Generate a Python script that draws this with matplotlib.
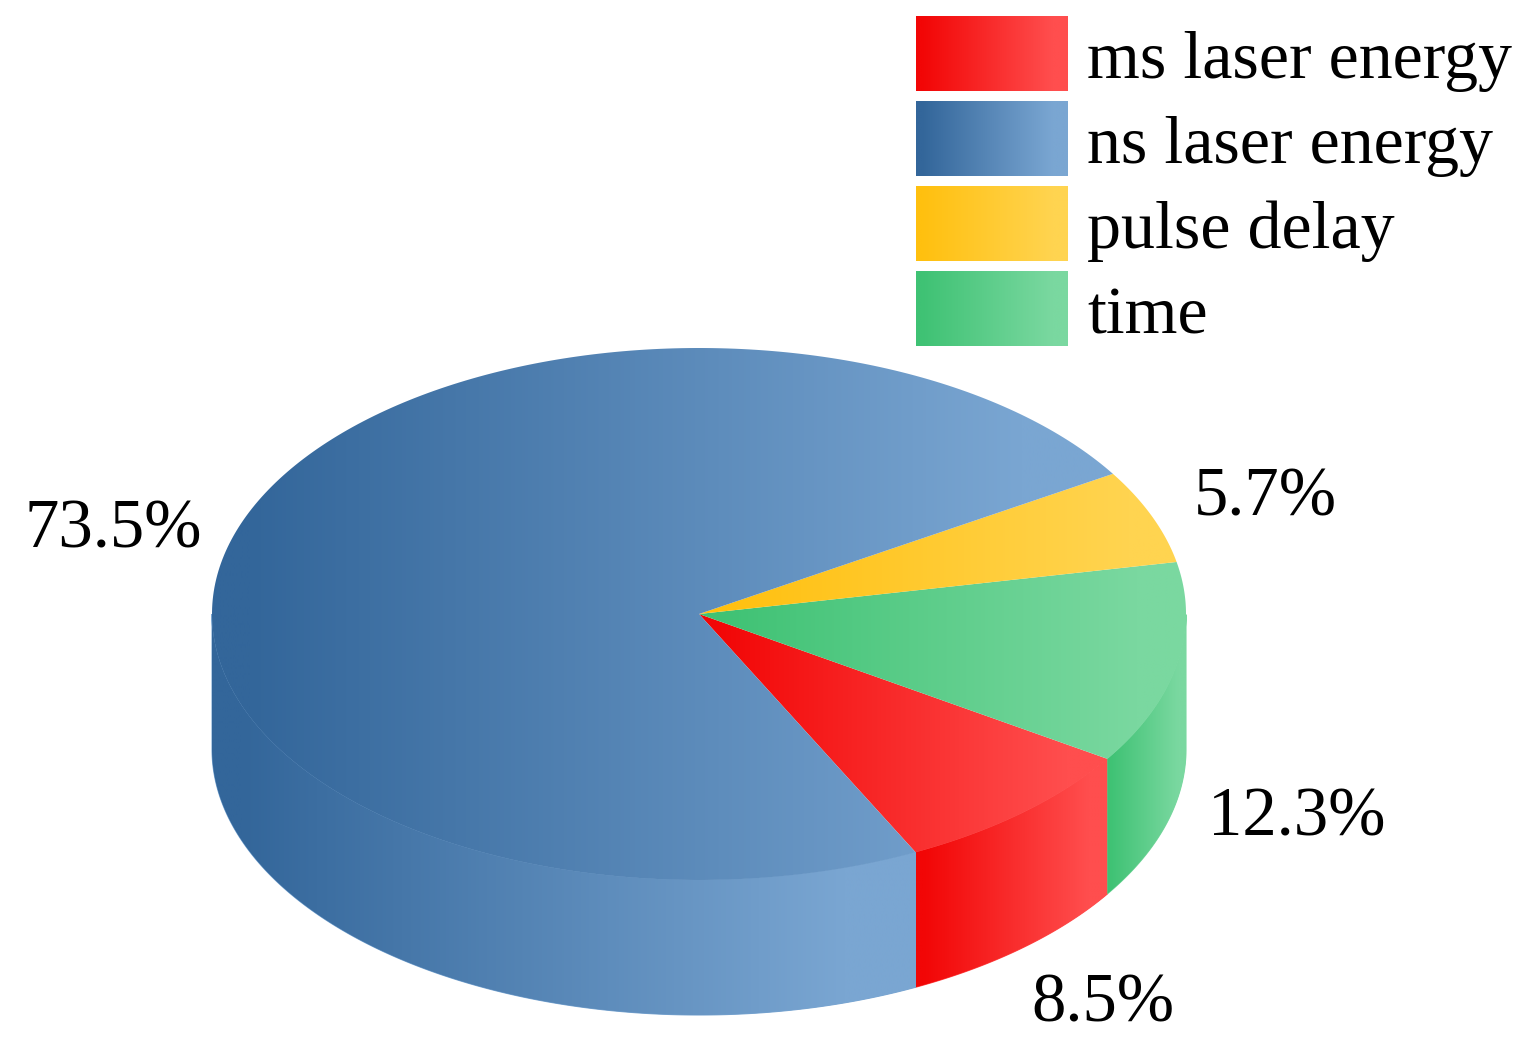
import numpy as np
import matplotlib
matplotlib.use("Agg")
import matplotlib.pyplot as plt
from matplotlib.colors import LinearSegmentedColormap
from matplotlib.patches import Polygon

# --- data ---
categories = ["ms laser energy", "ns laser energy", "pulse delay", "time"]
shares_pct = [8.5, 73.5, 5.7, 12.3]
share_labels = ["8.5%", "73.5%", "5.7%", "12.3%"]
left_colors = ["#F20606", "#33669A", "#FFC00F", "#3FC274"]
right_colors = ["#FF4E4E", "#7AA6D2", "#FFD450", "#7AD8A0"]

# --- layout (pixels) ---
W, H = 1528, 1055
CX, CY, RX, RY, DEPTH = 699, 614, 487, 266, 135
START_DEG = -63.6
label_xy = [(1103, 1021), (113, 547), (1265, 516), (1297, 835)]
legend_x, legend_w, legend_h = 916, 152, 75
legend_y = [16, 101, 186, 271]
legend_text_x = 1087
legend_baseline = 62

plt.rcParams["font.family"] = ["Liberation Serif", "DejaVu Serif"]
fig = plt.figure(figsize=(W / 100, H / 100), dpi=100, facecolor="white")
ax = fig.add_axes([0, 0, 1, 1])
ax.set_xlim(0, W)
ax.set_ylim(H, 0)
ax.axis("off")


def gradient_fill(pts, c0, c1, z):
    """Fill a polygon with a horizontal gradient over its own x extent."""
    pts = np.asarray(pts)
    x0, x1 = pts[:, 0].min(), pts[:, 0].max()
    y0, y1 = pts[:, 1].min(), pts[:, 1].max()
    cmap = LinearSegmentedColormap.from_list("g", [(0, c0), (0.04, c0), (0.9, c1), (1, c1)])
    im = ax.imshow(np.linspace(0, 1, 512).reshape(1, -1), extent=(x0, x1, y1, y0),
                   cmap=cmap, aspect="auto", zorder=z, interpolation="bilinear")
    poly = Polygon(pts, closed=True, transform=ax.transData, fc="none", ec="none")
    ax.add_patch(poly)
    im.set_clip_path(poly)


def rim(t):
    return np.column_stack([CX + RX * np.cos(t), CY - RY * np.sin(t)])


order = [0, 3, 2, 1]  # ms, time, pulse delay, ns: counter-clockwise from START
ang = np.deg2rad(START_DEG)
for i in order:
    sweep = np.deg2rad(shares_pct[i] * 3.6)
    t = np.linspace(ang, ang + sweep, 300)
    s = np.sin(t) < 0
    if s.any():
        arc = rim(t[s])
        if i == 1:
            # ns wedge: front wall runs from the far left to its end at START
            arc = rim(np.linspace(np.pi, 2 * np.pi + np.deg2rad(START_DEG), 300))
        wall = np.vstack([arc, (arc + [0, DEPTH])[::-1]])
        # thin backing in the slice colour hides seams between neighbours
        ax.add_patch(Polygon(wall, closed=True, fc=right_colors[i], ec=right_colors[i],
                             lw=0.8, zorder=1))
        gradient_fill(wall, left_colors[i], right_colors[i], 2)
    top = np.vstack([[CX, CY], rim(t)])
    gradient_fill(top, left_colors[i], right_colors[i], 3)
    ang += sweep

for i, (x, y) in enumerate(label_xy):
    ax.text(x, y, share_labels[i], fontsize=49.5, ha="center", va="baseline",
            color="black", zorder=5)

for i, name in enumerate(categories):
    y = legend_y[i]
    pts = [(legend_x, y), (legend_x + legend_w, y),
           (legend_x + legend_w, y + legend_h), (legend_x, y + legend_h)]
    gradient_fill(pts, left_colors[i], right_colors[i], 4)
    ax.text(legend_text_x, y + legend_baseline, name, fontsize=49, ha="left",
            va="baseline", color="black", zorder=5)

ax.set_xlim(0, W)
ax.set_ylim(H, 0)
fig.savefig("out.png", dpi=100, facecolor="white")
